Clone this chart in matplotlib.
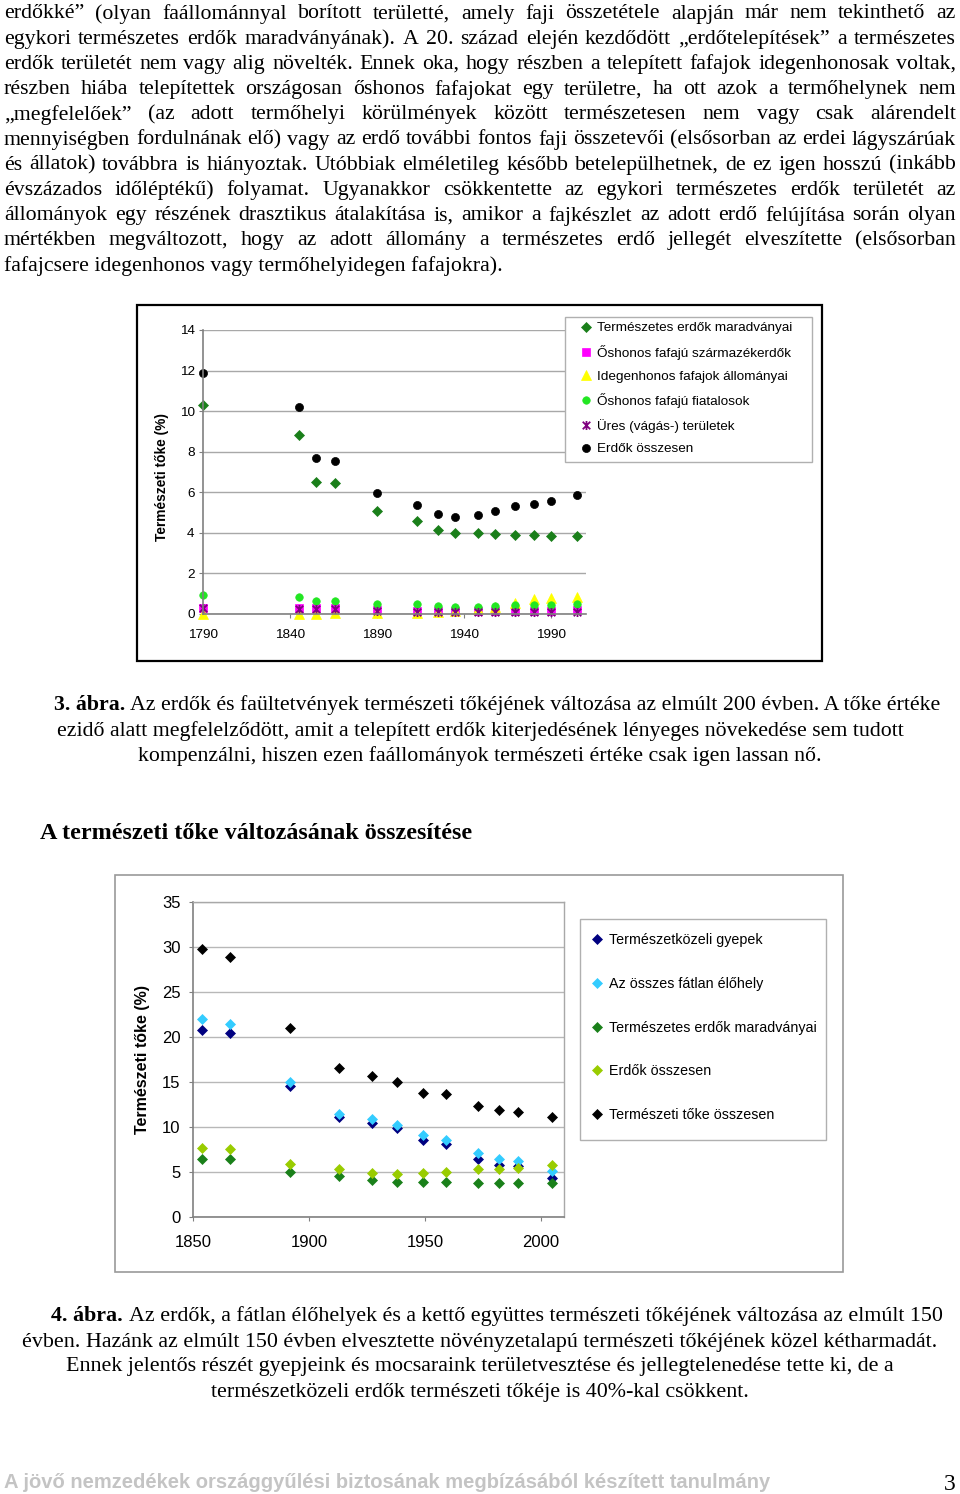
import matplotlib
matplotlib.use('Agg')
import matplotlib.pyplot as plt
from matplotlib.path import Path
from matplotlib.patches import Rectangle

# ---------------- data ----------------
body_lines = [
    "erdőkké” (olyan faállománnyal borított területté, amely faji összetétele alapján már nem tekinthető az",
    "egykori természetes erdők maradványának). A 20. század elején kezdődött „erdőtelepítések” a természetes",
    "erdők területét nem vagy alig növelték. Ennek oka, hogy részben a telepített fafajok idegenhonosak voltak,",
    "részben hiába telepítettek országosan őshonos fafajokat egy területre, ha ott azok a termőhelynek nem",
    "„megfelelőek” (az adott termőhelyi körülmények között természetesen nem vagy csak alárendelt",
    "mennyiségben fordulnának elő) vagy az erdő további fontos faji összetevői (elsősorban az erdei lágyszárúak",
    "és állatok) továbbra is hiányoztak. Utóbbiak elméletileg később betelepülhetnek, de ez igen hosszú (inkább",
    "évszázados időléptékű) folyamat. Ugyanakkor csökkentette az egykori természetes erdők területét az",
    "állományok egy részének drasztikus átalakítása is, amikor a fajkészlet az adott erdő felújítása során olyan",
    "mértékben megváltozott, hogy az adott állomány a természetes erdő jellegét elveszítette (elsősorban",
    "fafajcsere idegenhonos vagy termőhelyidegen fafajokra).",
]
cap3_bold = "3. ábra."
cap3_lines = [
    "Az erdők és faültetvények természeti tőkéjének változása az elmúlt 200 évben. A tőke értéke",
    "ezidő alatt megfelelződött, amit a telepített erdők kiterjedésének lényeges növekedése sem tudott",
    "kompenzálni, hiszen ezen faállományok természeti értéke csak igen lassan nő.",
]
heading = "A természeti tőke változásának összesítése"
cap4_bold = "4. ábra."
cap4_lines = [
    "Az erdők, a fátlan élőhelyek és a kettő együttes természeti tőkéjének változása az elmúlt 150",
    "évben. Hazánk az elmúlt 150 évben elvesztette növényzetalapú természeti tőkéjének közel kétharmadát.",
    "Ennek jelentős részét gyepjeink és mocsaraink területvesztése és jellegtelenedése tette ki, de a",
    "természetközeli erdők természeti tőkéje is 40%-kal csökkent.",
]
footer = "A jövő nemzedékek országgyűlési biztosának megbízásából készített tanulmány"
page_no = "3"

# chart 1
years1 = [1790, 1845, 1855, 1866, 1890, 1913, 1925, 1935, 1948, 1958, 1969, 1980, 1990, 2005]
term_erdok1 = [10.3, 8.8, 6.52, 6.44, 5.07, 4.58, 4.14, 4.0, 4.0, 3.96, 3.89, 3.89, 3.84, 3.84]
oshonos_szarm = [0.3, 0.3, 0.3, 0.3, 0.2, 0.15, 0.15, 0.15, 0.15, 0.15, 0.15, 0.15, 0.15, 0.2]
idegenhonos = [0.0, 0.0, 0.0, 0.05, 0.05, 0.05, 0.1, 0.15, 0.25, 0.35, 0.55, 0.72, 0.78, 0.82]
oshonos_fiatal = [0.95, 0.82, 0.64, 0.64, 0.5, 0.47, 0.41, 0.34, 0.34, 0.39, 0.44, 0.44, 0.44, 0.47]
ures = [0.3, 0.25, 0.25, 0.25, 0.15, 0.1, 0.1, 0.1, 0.1, 0.1, 0.1, 0.1, 0.1, 0.1]
erdok_ossz1 = [11.9, 10.2, 7.67, 7.54, 5.98, 5.37, 4.93, 4.8, 4.86, 5.06, 5.30, 5.44, 5.55, 5.86]
labels1 = ["Természetes erdők maradványai", "Őshonos fafajú származékerdők",
           "Idegenhonos fafajok állományai", "Őshonos fafajú fiatalosok",
           "Üres (vágás-) területek", "Erdők összesen"]
xticks1 = [1790, 1840, 1890, 1940, 1990]
yticks1 = [0, 2, 4, 6, 8, 10, 12, 14]

# chart 2
years2 = [1854, 1866, 1892, 1913, 1927, 1938, 1949, 1959, 1973, 1982, 1990, 2005]
gyepek = [20.8, 20.5, 14.55, 11.1, 10.5, 9.9, 8.54, 8.13, 6.46, 5.75, 5.64, 4.38]
fatlan = [22.0, 21.4, 15.0, 11.5, 10.84, 10.25, 9.06, 8.54, 7.13, 6.5, 6.24, 5.12]
term_erdok2 = [6.46, 6.46, 4.97, 4.53, 4.08, 3.93, 3.93, 3.93, 3.79, 3.79, 3.79, 3.79]
erdok_ossz2 = [7.65, 7.54, 5.9, 5.31, 4.86, 4.75, 4.86, 5.0, 5.31, 5.31, 5.46, 5.75]
toke_ossz = [29.8, 28.9, 20.97, 16.6, 15.7, 15.0, 13.8, 13.66, 12.3, 11.9, 11.7, 11.1]
labels2 = ["Természetközeli gyepek", "Az összes fátlan élőhely",
           "Természetes erdők maradványai", "Erdők összesen", "Természeti tőke összesen"]
xticks2 = [1850, 1900, 1950, 2000]
yticks2 = [0, 5, 10, 15, 20, 25, 30, 35]
ylabel = "Természeti tőke (%)"

# ---------------- figure ----------------
W, H = 960, 1494
fig = plt.figure(figsize=(W / 100, H / 100), dpi=100)
fig.patch.set_facecolor('white')
renderer = fig.canvas.get_renderer()

def fx(x):
    return x / W

def fy(y):
    return 1 - y / H

DY = 2  # text vertical correction (px)

def ty(y):
    return fy(y + DY)

SERIF = ['Liberation Serif', 'DejaVu Serif']
SANS = ['Liberation Sans', 'DejaVu Sans']
NARROW = ['Liberation Sans Narrow', 'Liberation Sans', 'DejaVu Sans']

def width_of(s, size, family, weight='normal'):
    t = fig.text(0, 0, s, fontsize=size, family=family, weight=weight)
    w = t.get_window_extent(renderer).width
    t.remove()
    return w

# ---- body text, justified ----
body_size = 12 * 500 / width_of(body_lines[-1], 12, SERIF)
left, right = 4, 956
for i, line in enumerate(body_lines):
    y = 12 + 25.2 * i
    if i == len(body_lines) - 1:
        fig.text(fx(left), ty(y), line, fontsize=body_size, family=SERIF, va='center')
        continue
    words = line.split(' ')
    ws = [width_of(w, body_size, SERIF) for w in words]
    gap = (right - left - sum(ws)) / (len(words) - 1)
    x = left
    for w, wd in zip(words, ws):
        fig.text(fx(x), ty(y), w, fontsize=body_size, family=SERIF, va='center')
        x += wd + gap

# ---- captions ----
def caption(bold, lines, ys, first_center, center, fit_idx, fit_width):
    size = 12 * fit_width / width_of(lines[fit_idx], 12, SERIF)
    sp = width_of("a a", size, SERIF) - width_of("aa", size, SERIF)
    for i, (line, y) in enumerate(zip(lines, ys)):
        if i == 0:
            wb = width_of(bold, size, SERIF, 'bold')
            wn = width_of(line, size, SERIF)
            tot = wb + sp + wn
            x0 = first_center - tot / 2
            fig.text(fx(x0), ty(y), bold, fontsize=size, family=SERIF, weight='bold', va='center')
            fig.text(fx(x0 + wb + sp), ty(y), line, fontsize=size, family=SERIF, va='center')
        else:
            fig.text(fx(center), ty(y), line, fontsize=size, family=SERIF, va='center', ha='center')

caption(cap3_bold, cap3_lines, [703, 729, 754], 497, 480, 1, 846)
caption(cap4_bold, cap4_lines, [1314, 1340, 1365, 1390], 497, 480, 1, 916)

hsize = 12 * 429 / width_of(heading, 12, SERIF, 'bold')
fig.text(fx(40), ty(832), heading, fontsize=hsize, family=SERIF, weight='bold', va='center')

fsize = 12 * 761 / width_of(footer, 12, NARROW, 'bold')
fig.text(fx(4), ty(1481), footer, fontsize=fsize, family=NARROW, weight='bold',
         color='#c4c4c4', va='center')
fig.text(fx(956), ty(1483), page_no, fontsize=17, family=SERIF, va='center', ha='right')

# ---------------- chart 1 ----------------
fig.add_artist(Rectangle((fx(137), fy(661)), fx(822) - fx(137), fy(305) - fy(661),
                         transform=fig.transFigure, facecolor='white', edgecolor='black',
                         linewidth=1.6, zorder=0))
ax1 = fig.add_axes([fx(203), fy(614), fx(586) - fx(203), fy(330) - fy(614)])
ax1.set_xlim(1790, 2010)
ax1.set_ylim(0, 14)
ax1.set_xticks(xticks1)
ax1.set_yticks(yticks1)
ax1.set_facecolor('none')
for s in ['top', 'right']:
    ax1.spines[s].set_visible(False)
for s in ['left', 'bottom']:
    ax1.spines[s].set_color('#808080')
    ax1.spines[s].set_linewidth(1.2)
ax1.yaxis.grid(True, color='#a8a8a8', linewidth=1.0)
ax1.set_axisbelow(True)
ax1.tick_params(axis='both', length=3, width=0.8, color='#808080', labelsize=9.7)
ax1.tick_params(axis='x', pad=7.5)
ax1.tick_params(axis='y', pad=3)
for lab in ax1.get_xticklabels() + ax1.get_yticklabels():
    lab.set_family(SANS)

star = Path([(-1, -1), (1, 1), (-1, 1), (1, -1), (0, -1.2), (0, 1.2)],
            [Path.MOVETO, Path.LINETO, Path.MOVETO, Path.LINETO, Path.MOVETO, Path.LINETO])

st1 = [
    dict(marker='D', color='#1a7f1a', ms=4.8, mec='#1a7f1a'),
    dict(marker='s', color='#ff00ff', ms=6.0, mec='#ff00ff'),
    dict(marker='^', color='#ffff00', ms=6.5, mec='#ffff00'),
    dict(marker='o', color='#22e622', ms=5.4, mec='#22e622'),
    dict(marker=star, color='#800080', ms=6.5, mec='#800080', mew=1.3),
    dict(marker='o', color='black', ms=5.8, mec='black'),
]
series1 = [term_erdok1, oshonos_szarm, idegenhonos, oshonos_fiatal, ures, erdok_ossz1]
handles1 = []
for vals, st, lab in zip(series1, st1, labels1):
    h, = ax1.plot(years1, vals, linestyle='none', marker=st['marker'], markersize=st['ms'],
                  markerfacecolor=st['color'], markeredgecolor=st['mec'],
                  markeredgewidth=st.get('mew', 0.5), clip_on=False, label=lab)
    handles1.append(h)

fig.text(fx(162), ty(475), ylabel, rotation=90, fontsize=9.9, family=SANS, weight='bold',
         ha='center', va='center')

fig.add_artist(Rectangle((fx(565), fy(462)), fx(812) - fx(565), fy(317) - fy(462),
                         transform=fig.transFigure, facecolor='white', edgecolor='#b0b0b0',
                         linewidth=1.0, zorder=3))
leg1 = fig.legend(handles=handles1, labels=labels1, loc='upper left',
                  bbox_to_anchor=(fx(579.5), fy(322)), bbox_transform=fig.transFigure,
                  frameon=False, borderpad=0, borderaxespad=0, handlelength=1.0,
                  handletextpad=0.3, labelspacing=0.78,
                  prop={'family': SANS, 'size': 9.7})
leg1.set_zorder(4)

# ---------------- chart 2 ----------------
fig.add_artist(Rectangle((fx(115), fy(1272)), fx(843) - fx(115), fy(875) - fy(1272),
                         transform=fig.transFigure, facecolor='white', edgecolor='#9a9a9a',
                         linewidth=1.2, zorder=0))
ax2 = fig.add_axes([fx(193), fy(1217), fx(564) - fx(193), fy(902) - fy(1217)])
ax2.set_xlim(1850, 2010)
ax2.set_ylim(0, 35)
ax2.set_xticks(xticks2)
ax2.set_yticks(yticks2)
ax2.set_facecolor('none')
for s in ['top', 'right']:
    ax2.spines[s].set_color('#a8a8a8')
    ax2.spines[s].set_linewidth(1.0)
for s in ['left', 'bottom']:
    ax2.spines[s].set_color('#808080')
    ax2.spines[s].set_linewidth(1.2)
ax2.yaxis.grid(True, color='#b8b8b8', linewidth=1.0)
ax2.set_axisbelow(True)
ax2.tick_params(axis='both', length=3, width=0.8, color='#808080', labelsize=12)
ax2.tick_params(axis='x', pad=10)
ax2.tick_params(axis='y', pad=6)
for lab in ax2.get_xticklabels() + ax2.get_yticklabels():
    lab.set_family(SANS)

cols2 = ['#000080', '#33ccff', '#1a801a', '#99cc00', '#000000']
series2 = [gyepek, fatlan, term_erdok2, erdok_ossz2, toke_ossz]
handles2 = []
for vals, c, lab in zip(series2, cols2, labels2):
    h, = ax2.plot(years2, vals, linestyle='none', marker='D', markersize=5.2,
                  markerfacecolor=c, markeredgecolor=c, markeredgewidth=0.5,
                  clip_on=False, label=lab)
    handles2.append(h)

fig.text(fx(143), ty(1058), ylabel, rotation=90, fontsize=11.5, family=SANS, weight='bold',
         ha='center', va='center')

fig.add_artist(Rectangle((fx(580), fy(1140)), fx(826) - fx(580), fy(919) - fy(1140),
                         transform=fig.transFigure, facecolor='white', edgecolor='#b0b0b0',
                         linewidth=1.0, zorder=3))
leg2 = fig.legend(handles=handles2, labels=labels2, loc='upper left',
                  bbox_to_anchor=(fx(590), fy(933)), bbox_transform=fig.transFigure,
                  frameon=False, borderpad=0, borderaxespad=0, handlelength=1.0,
                  handletextpad=0.3, labelspacing=2.08,
                  prop={'family': SANS, 'size': 10.3})
leg2.set_zorder(4)

fig.savefig('out.png', dpi=100, facecolor='white')
